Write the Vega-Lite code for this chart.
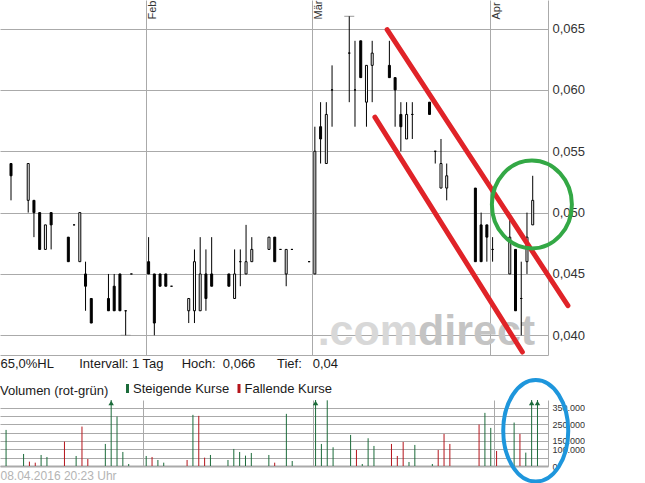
{
  "$schema": "https://vega.github.io/schema/vega-lite/v6.json",
  "padding": 0,
  "background": "white",
  "spacing": 45,
  "bounds": "flush",
  "resolve": {"scale": {"color": "independent"}, "legend": {"color": "independent"}},
  "config": {
    "font": "Liberation Sans",
    "view": {"stroke": null},
    "axis": {"gridColor": "#aaaaaa", "domainColor": "#aaaaaa", "gridOpacity": 1}
  },
  "datasets": {
    "ohlc": [
      {"d":"2016-01-08","o":0.054,"h":0.054,"l":0.051,"c":0.053,"v":216000,"t":"Steigende Kurse"},
      {"d":"2016-01-11","o":0.051,"h":0.054,"l":0.050,"c":0.054,"v":72000,"t":"Steigende Kurse"},
      {"d":"2016-01-12","o":0.051,"h":0.051,"l":0.048,"c":0.050,"v":26000,"t":"Fallende Kurse"},
      {"d":"2016-01-13","o":0.050,"h":0.050,"l":0.047,"c":0.047,"v":20000,"t":"Fallende Kurse"},
      {"d":"2016-01-14","o":0.047,"h":0.049,"l":0.047,"c":0.049,"v":66000,"t":"Steigende Kurse"},
      {"d":"2016-01-15","o":0.050,"h":0.050,"l":0.047,"c":0.049,"v":54000,"t":"Steigende Kurse"},
      {"d":"2016-01-18","o":0.048,"h":0.048,"l":0.046,"c":0.046,"v":146000,"t":"Fallende Kurse"},
      {"d":"2016-01-19","o":0.049,"h":0.049,"l":0.049,"c":0.049,"v":0,"t":"Steigende Kurse"},
      {"d":"2016-01-20","o":0.046,"h":0.050,"l":0.046,"c":0.050,"v":60000,"t":"Steigende Kurse"},
      {"d":"2016-01-21","o":0.045,"h":0.046,"l":0.042,"c":0.044,"v":236000,"t":"Fallende Kurse"},
      {"d":"2016-01-22","o":0.043,"h":0.043,"l":0.041,"c":0.041,"v":42000,"t":"Fallende Kurse"},
      {"d":"2016-01-25","o":0.043,"h":0.045,"l":0.042,"c":0.042,"v":132000,"t":"Steigende Kurse"},
      {"d":"2016-01-26","o":0.044,"h":0.045,"l":0.042,"c":0.042,"v":450000,"t":"Steigende Kurse"},
      {"d":"2016-01-27","o":0.045,"h":0.045,"l":0.042,"c":0.042,"v":296000,"t":"Steigende Kurse"},
      {"d":"2016-01-28","o":0.042,"h":0.042,"l":0.040,"c":0.042,"v":84000,"t":"Steigende Kurse"},
      {"d":"2016-01-29","o":0.045,"h":0.045,"l":0.045,"c":0.045,"v":12000,"t":"Steigende Kurse"},
      {"d":"2016-02-01","o":0.046,"h":0.048,"l":0.045,"c":0.045,"v":60000,"t":"Steigende Kurse"},
      {"d":"2016-02-02","o":0.045,"h":0.045,"l":0.040,"c":0.041,"v":54000,"t":"Fallende Kurse"},
      {"d":"2016-02-03","o":0.045,"h":0.045,"l":0.044,"c":0.044,"v":36000,"t":"Steigende Kurse"},
      {"d":"2016-02-04","o":0.045,"h":0.045,"l":0.044,"c":0.044,"v":20000,"t":"Steigende Kurse"},
      {"d":"2016-02-05","o":0.044,"h":0.044,"l":0.044,"c":0.044,"v":0,"t":"Steigende Kurse"},
      {"d":"2016-02-08","o":0.042,"h":0.043,"l":0.041,"c":0.043,"v":36000,"t":"Fallende Kurse"},
      {"d":"2016-02-09","o":0.042,"h":0.047,"l":0.041,"c":0.046,"v":306000,"t":"Steigende Kurse"},
      {"d":"2016-02-10","o":0.042,"h":0.048,"l":0.042,"c":0.045,"v":300000,"t":"Fallende Kurse"},
      {"d":"2016-02-11","o":0.045,"h":0.047,"l":0.042,"c":0.043,"v":50000,"t":"Fallende Kurse"},
      {"d":"2016-02-12","o":0.045,"h":0.048,"l":0.044,"c":0.044,"v":66000,"t":"Steigende Kurse"},
      {"d":"2016-02-15","o":0.045,"h":0.045,"l":0.044,"c":0.044,"v":36000,"t":"Steigende Kurse"},
      {"d":"2016-02-16","o":0.043,"h":0.047,"l":0.043,"c":0.045,"v":102000,"t":"Steigende Kurse"},
      {"d":"2016-02-17","o":0.046,"h":0.047,"l":0.044,"c":0.046,"v":84000,"t":"Steigende Kurse"},
      {"d":"2016-02-18","o":0.045,"h":0.049,"l":0.045,"c":0.046,"v":62000,"t":"Steigende Kurse"},
      {"d":"2016-02-19","o":0.046,"h":0.048,"l":0.046,"c":0.047,"v":78000,"t":"Steigende Kurse"},
      {"d":"2016-02-22","o":0.047,"h":0.048,"l":0.047,"c":0.048,"v":66000,"t":"Steigende Kurse"},
      {"d":"2016-02-23","o":0.048,"h":0.048,"l":0.046,"c":0.046,"v":20000,"t":"Fallende Kurse"},
      {"d":"2016-02-24","o":0.047,"h":0.047,"l":0.047,"c":0.047,"v":0,"t":"Steigende Kurse"},
      {"d":"2016-02-25","o":0.045,"h":0.047,"l":0.044,"c":0.047,"v":312000,"t":"Steigende Kurse"},
      {"d":"2016-02-26","o":0.047,"h":0.047,"l":0.047,"c":0.047,"v":30000,"t":"Steigende Kurse"},
      {"d":"2016-02-29","o":0.046,"h":0.046,"l":0.046,"c":0.046,"v":0,"t":"Steigende Kurse"},
      {"d":"2016-03-01","o":0.045,"h":0.057,"l":0.045,"c":0.055,"v":450000,"t":"Steigende Kurse"},
      {"d":"2016-03-02","o":0.057,"h":0.059,"l":0.054,"c":0.056,"v":132000,"t":"Steigende Kurse"},
      {"d":"2016-03-03","o":0.054,"h":0.059,"l":0.054,"c":0.058,"v":393000,"t":"Steigende Kurse"},
      {"d":"2016-03-04","o":0.060,"h":0.062,"l":0.057,"c":0.060,"v":112000,"t":"Steigende Kurse"},
      {"d":"2016-03-07","o":0.063,"h":0.066,"l":0.059,"c":0.063,"v":186000,"t":"Steigende Kurse"},
      {"d":"2016-03-08","o":0.060,"h":0.064,"l":0.057,"c":0.060,"v":96000,"t":"Fallende Kurse"},
      {"d":"2016-03-09","o":0.064,"h":0.064,"l":0.061,"c":0.061,"v":12000,"t":"Steigende Kurse"},
      {"d":"2016-03-10","o":0.059,"h":0.062,"l":0.057,"c":0.062,"v":166000,"t":"Steigende Kurse"},
      {"d":"2016-03-11","o":0.062,"h":0.064,"l":0.059,"c":0.063,"v":120000,"t":"Steigende Kurse"},
      {"d":"2016-03-14","o":0.062,"h":0.064,"l":0.061,"c":0.061,"v":132000,"t":"Fallende Kurse"},
      {"d":"2016-03-15","o":0.061,"h":0.061,"l":0.057,"c":0.060,"v":60000,"t":"Fallende Kurse"},
      {"d":"2016-03-16","o":0.058,"h":0.059,"l":0.055,"c":0.057,"v":144000,"t":"Fallende Kurse"},
      {"d":"2016-03-17","o":0.056,"h":0.059,"l":0.056,"c":0.058,"v":24000,"t":"Steigende Kurse"},
      {"d":"2016-03-18","o":0.058,"h":0.059,"l":0.056,"c":0.058,"v":126000,"t":"Steigende Kurse"},
      {"d":"2016-03-21","o":0.059,"h":0.059,"l":0.058,"c":0.058,"v":12000,"t":"Steigende Kurse"},
      {"d":"2016-03-22","o":0.055,"h":0.055,"l":0.054,"c":0.055,"v":96000,"t":"Fallende Kurse"},
      {"d":"2016-03-23","o":0.052,"h":0.056,"l":0.052,"c":0.054,"v":192000,"t":"Fallende Kurse"},
      {"d":"2016-03-24","o":0.052,"h":0.054,"l":0.051,"c":0.053,"v":132000,"t":"Fallende Kurse"},
      {"d":"2016-03-29","o":0.052,"h":0.052,"l":0.046,"c":0.046,"v":248000,"t":"Fallende Kurse"},
      {"d":"2016-03-30","o":0.049,"h":0.050,"l":0.046,"c":0.046,"v":318000,"t":"Steigende Kurse"},
      {"d":"2016-03-31","o":0.049,"h":0.049,"l":0.046,"c":0.048,"v":228000,"t":"Steigende Kurse"},
      {"d":"2016-04-01","o":0.047,"h":0.048,"l":0.046,"c":0.047,"v":90000,"t":"Fallende Kurse"},
      {"d":"2016-04-04","o":0.045,"h":0.0495,"l":0.045,"c":0.048,"v":260000,"t":"Steigende Kurse"},
      {"d":"2016-04-05","o":0.047,"h":0.047,"l":0.042,"c":0.042,"v":192000,"t":"Fallende Kurse"},
      {"d":"2016-04-06","o":0.043,"h":0.046,"l":0.040,"c":0.043,"v":80000,"t":"Steigende Kurse"},
      {"d":"2016-04-07","o":0.046,"h":0.050,"l":0.045,"c":0.048,"v":450000,"t":"Steigende Kurse"},
      {"d":"2016-04-08","o":0.049,"h":0.053,"l":0.049,"c":0.051,"v":450000,"t":"Steigende Kurse"}
    ],
    "extreme": [
      {"d":"2016-03-07","p":0.066},
      {"d":"2016-01-28","p":0.040}
    ],
    "channel": [
      {"line":"oben","x":"2016-03-14T02:40:00Z","y":0.064915},
      {"line":"oben","x":"2016-04-14T15:36:00Z","y":0.042413},
      {"line":"unten","x":"2016-03-11T23:30:00Z","y":0.057775},
      {"line":"unten","x":"2016-04-06T16:48:00Z","y":0.038639}
    ],
    "ring": [{"x":"2016-04-08T08:38:00Z","y":0.050669}],
    "oval": [{"x":"2016-04-08T04:50:00Z","y":210667}],
    "mark": [
      {"x":"2016-03-19T12:00:00Z","y":0.039209,"t":".com"},
      {"x":"2016-03-19T12:00:00Z","y":0.039209,"t":"direct"}
    ]
  },
  "vconcat": [
    {
      "width": 548,
      "height": 355,
      "resolve": {"axis": {"x": "independent", "y": "independent"}},
      "layer": [
        {
          "data": {"name": "mark"},
          "transform": [{"filter": "datum.t === '.com'"}],
          "mark": {"type": "text", "fontSize": 43, "fontWeight": "bold", "baseline": "alphabetic", "align": "right", "color": "#d8d8d8"},
          "encoding": {
            "x": {"field": "x", "type": "temporal", "axis": null, "scale": {"type": "utc", "domain": [{"year":2016,"month":1,"date":7,"hours":11,"utc":true},{"year":2016,"month":4,"date":10,"hours":7,"minutes":12,"utc":true}]}},
            "y": {"field": "y", "type": "quantitative", "axis": null, "scale": {"domain": [0.038395, 0.067327], "nice": false, "zero": false}},
            "text": {"field": "t"}
          }
        },
        {
          "data": {"name": "mark"},
          "transform": [{"filter": "datum.t === 'direct'"}],
          "mark": {"type": "text", "fontSize": 43, "fontWeight": "bold", "baseline": "alphabetic", "align": "left", "color": "#c4c4c4"},
          "encoding": {
            "x": {"field": "x", "type": "temporal", "axis": null, "scale": {"type": "utc", "domain": [{"year":2016,"month":1,"date":7,"hours":11,"utc":true},{"year":2016,"month":4,"date":10,"hours":7,"minutes":12,"utc":true}]}},
            "y": {"field": "y", "type": "quantitative", "axis": null, "scale": {"domain": [0.038395, 0.067327], "nice": false, "zero": false}},
            "text": {"field": "t"}
          }
        },
        {
          "data": {"name": "extreme"},
          "mark": {"type": "tick", "orient": "horizontal", "color": "#999999", "size": 10, "thickness": 1, "xOffset": 2.9, "opacity": 1},
          "encoding": {
            "x": {"field": "d", "type": "temporal", "axis": null, "scale": {"type": "utc", "domain": [{"year":2016,"month":1,"date":7,"hours":11,"utc":true},{"year":2016,"month":4,"date":10,"hours":7,"minutes":12,"utc":true}]}},
            "y": {"field": "p", "type": "quantitative", "axis": null, "scale": {"domain": [0.038395, 0.067327], "nice": false, "zero": false}}
          }
        },
        {
          "data": {"name": "ohlc"},
          "mark": {"type": "rule", "color": "black", "strokeWidth": 1, "xOffset": 2.9},
          "encoding": {
            "x": {"field": "d", "type": "temporal", "scale": {"type": "utc", "domain": [{"year":2016,"month":1,"date":7,"hours":11,"utc":true},{"year":2016,"month":4,"date":10,"hours":7,"minutes":12,"utc":true}]},
              "axis": {"orient": "bottom", "values": [{"year":2016,"month":2,"date":1,"utc":true},{"year":2016,"month":3,"date":1,"utc":true},{"year":2016,"month":4,"date":1,"utc":true}], "grid": true, "domain": true, "ticks": false, "labels": false,
                "title": "65,0%HL\u00a0\u00a0\u00a0\u00a0\u00a0\u00a0\u00a0Intervall: 1 Tag\u00a0\u00a0\u00a0\u00a0\u00a0Hoch:\u00a0\u00a00,066\u00a0\u00a0\u00a0\u00a0\u00a0\u00a0Tief:\u00a0\u00a0\u00a00,04",
                "titleAnchor": "start", "titleAlign": "left", "titleBaseline": "alphabetic", "titlePadding": 12, "titleFontSize": 13, "titleFontWeight": "normal", "titleColor": "#1a1a1a"}},
            "y": {"field": "l", "type": "quantitative", "scale": {"domain": [0.038395, 0.067327], "nice": false, "zero": false},
              "axis": {"orient": "right", "values": [0.04, 0.045, 0.05, 0.055, 0.06, 0.065], "grid": true, "domain": true, "ticks": false, "labelPadding": 4, "labelFontSize": 13, "labelColor": "#333333", "labelFlush": false, "labelExpr": "replace(format(datum.value, '.3f'), '.', ',')", "title": null}},
            "y2": {"field": "h"}
          }
        },
        {
          "data": {"name": "ohlc"},
          "mark": {"type": "bar", "size": 2, "stroke": "black", "strokeWidth": 1, "xOffset": 2.9},
          "encoding": {
            "x": {"field": "d", "type": "temporal", "scale": {"type": "utc", "domain": [{"year":2016,"month":1,"date":7,"hours":11,"utc":true},{"year":2016,"month":4,"date":10,"hours":7,"minutes":12,"utc":true}]},
              "axis": {"orient": "top", "values": [{"year":2016,"month":2,"date":1,"utc":true},{"year":2016,"month":3,"date":1,"utc":true},{"year":2016,"month":4,"date":1,"utc":true}], "grid": false, "domain": false, "ticks": false, "tickSize": 0, "labelAngle": 270, "labelAlign": "left", "labelBaseline": "top", "labelPadding": -19, "labelOffset": 1, "labelFontSize": 11, "labelColor": "#333333", "labelFlush": false, "labelOverlap": false, "labelExpr": "['Jan','Feb','Mär','Apr'][utcmonth(datum.value)]", "title": null}},
            "y": {"field": "o", "type": "quantitative", "axis": null, "scale": {"domain": [0.038395, 0.067327], "nice": false, "zero": false}},
            "y2": {"field": "c"},
            "fill": {"condition": {"test": "datum.c > datum.o", "value": "white"}, "value": "black"}
          }
        },
        {
          "data": {"name": "channel"},
          "mark": {"type": "line", "color": "#e02328", "strokeWidth": 5, "strokeCap": "round"},
          "encoding": {
            "x": {"field": "x", "type": "temporal", "axis": null, "scale": {"type": "utc", "domain": [{"year":2016,"month":1,"date":7,"hours":11,"utc":true},{"year":2016,"month":4,"date":10,"hours":7,"minutes":12,"utc":true}]}},
            "y": {"field": "y", "type": "quantitative", "axis": null, "scale": {"domain": [0.038395, 0.067327], "nice": false, "zero": false}},
            "detail": {"field": "line"}
          }
        },
        {
          "data": {"name": "ring"},
          "mark": {"type": "point", "filled": false, "opacity": 1, "stroke": "#33a845", "strokeWidth": 4, "size": 7744, "shape": "M0.909,0C0.909,0.552,0.502,1,0,1C-0.502,1,-0.909,0.552,-0.909,0C-0.909,-0.552,-0.502,-1,0,-1C0.502,-1,0.909,-0.552,0.909,0Z"},
          "encoding": {
            "x": {"field": "x", "type": "temporal", "axis": null, "scale": {"type": "utc", "domain": [{"year":2016,"month":1,"date":7,"hours":11,"utc":true},{"year":2016,"month":4,"date":10,"hours":7,"minutes":12,"utc":true}]}},
            "y": {"field": "y", "type": "quantitative", "axis": null, "scale": {"domain": [0.038395, 0.067327], "nice": false, "zero": false}}
          }
        }
      ]
    },
    {
      "width": 548,
      "height": 66,
      "resolve": {"axis": {"x": "independent", "y": "independent"}},
      "layer": [
        {
          "data": {"name": "ohlc"},
          "transform": [{"filter": "datum.v > 0"}],
          "mark": {"type": "rule", "strokeWidth": 1, "xOffset": 2.9},
          "encoding": {
            "x": {"field": "d", "type": "temporal", "scale": {"type": "utc", "domain": [{"year":2016,"month":1,"date":7,"hours":11,"utc":true},{"year":2016,"month":4,"date":10,"hours":7,"minutes":12,"utc":true}]},
              "axis": {"orient": "bottom", "values": [{"year":2016,"month":2,"date":1,"utc":true},{"year":2016,"month":3,"date":1,"utc":true},{"year":2016,"month":4,"date":1,"utc":true}], "grid": true, "domain": true, "domainWidth": 2, "ticks": false, "labels": false, "title": "08.04.2016 20:23 Uhr", "titleAnchor": "start", "titleAlign": "left", "titleFontSize": 12, "titleFontWeight": "normal", "titleColor": "#b4b4b4", "titlePadding": 4, "titleBaseline": "top"}},
            "y": {"field": "v", "type": "quantitative", "scale": {"domain": [0, 395000], "nice": false, "clamp": true},
              "axis": {"orient": "right", "values": [0, 50000, 100000, 150000, 200000, 250000, 300000, 350000], "grid": true, "domain": true, "ticks": false, "labelPadding": 4, "labelFontSize": 9, "labelColor": "#333333", "labelOverlap": false, "labelFlush": false, "labelExpr": "indexof([0, 100000, 150000, 250000, 350000], datum.value) >= 0 ? replace(format(datum.value, ',d'), ',', '.') : ''", "title": null}},
            "y2": {"datum": 0},
            "color": {"field": "t", "type": "nominal", "scale": {"domain": ["Steigende Kurse", "Fallende Kurse"], "range": ["#1b6b3a", "#b5141b"]},
              "legend": {"orient": "none", "legendX": 0, "legendY": -18, "direction": "horizontal", "title": "Volumen (rot-grün)", "titleOrient": "left", "titleFontSize": 13, "titleFontWeight": "normal", "titleColor": "#1a1a1a", "titlePadding": 12, "labelFontSize": 13, "labelColor": "#1a1a1a", "labelOffset": -1, "symbolType": "M0,-1L0,1", "symbolSize": 81, "symbolStrokeWidth": 3, "columnPadding": 2.5}}
          }
        },
        {
          "data": {"name": "ohlc"},
          "transform": [{"filter": "datum.v > 395000"}],
          "mark": {"type": "point", "shape": "triangle-up", "filled": true, "opacity": 1, "color": "#1b6b3a", "size": 30, "xOffset": 2.9, "yOffset": 3},
          "encoding": {
            "x": {"field": "d", "type": "temporal", "axis": null, "scale": {"type": "utc", "domain": [{"year":2016,"month":1,"date":7,"hours":11,"utc":true},{"year":2016,"month":4,"date":10,"hours":7,"minutes":12,"utc":true}]}},
            "y": {"field": "v", "type": "quantitative", "axis": null, "scale": {"domain": [0, 395000], "nice": false, "clamp": true}}
          }
        },
        {
          "data": {"name": "oval"},
          "mark": {"type": "point", "filled": false, "opacity": 1, "stroke": "#1e96dc", "strokeWidth": 4, "size": 10323, "shape": "M0.64,0C0.64,0.552,0.353,1,0,1C-0.353,1,-0.64,0.552,-0.64,0C-0.64,-0.552,-0.353,-1,0,-1C0.353,-1,0.64,-0.552,0.64,0Z"},
          "encoding": {
            "x": {"field": "x", "type": "temporal", "axis": null, "scale": {"type": "utc", "domain": [{"year":2016,"month":1,"date":7,"hours":11,"utc":true},{"year":2016,"month":4,"date":10,"hours":7,"minutes":12,"utc":true}]}},
            "y": {"field": "y", "type": "quantitative", "axis": null, "scale": {"domain": [0, 395000], "nice": false, "clamp": true}}
          }
        }
      ]
    }
  ]
}
